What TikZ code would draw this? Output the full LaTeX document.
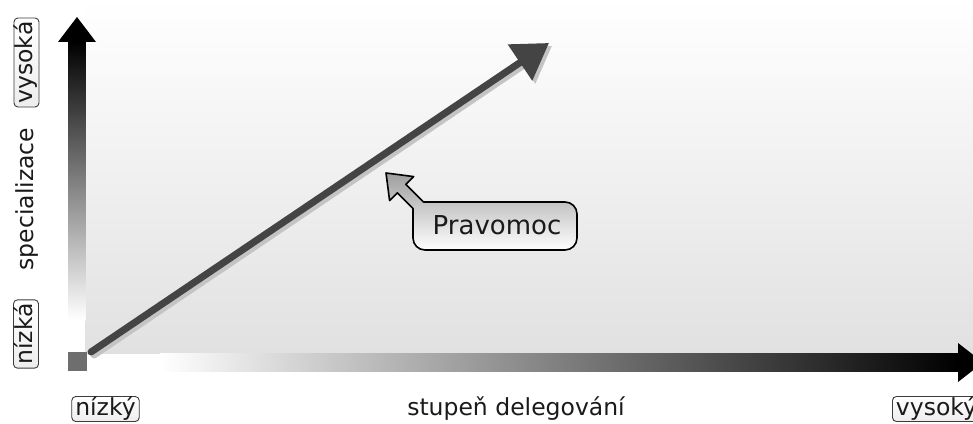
\documentclass[tikz,border=0pt]{standalone}
\usepackage{fontspec}
\setmainfont{DejaVu Sans}
\usetikzlibrary{arrows.meta}
\definecolor{bgbot}{HTML}{E1E1E1}
\definecolor{ink}{HTML}{1A1A1A}
\definecolor{lineclr}{HTML}{444444}
\definecolor{shadowclr}{HTML}{C4C4C4}
\definecolor{squareclr}{HTML}{6E6E6E}
\definecolor{frameclr}{HTML}{3C3C3C}
\tikzset{
  labelbox/.style={draw=frameclr, line width=0.9pt, rounded corners=4pt,
    top color=white, bottom color=white!93!black, text=ink,
    inner xsep=3.5pt, inner ysep=1.5pt, text height=17pt, text depth=5pt,
    font=\fontsize{23.5}{28}\selectfont},
  plainlabel/.style={text=ink, inner sep=0pt, font=\fontsize{23.5}{28}\selectfont},
  trend/.style={draw=lineclr, line width=7pt, line cap=round,
    -{Triangle[length=35pt,width=42pt]}},
  trendshadow/.style={draw=shadowclr, line width=7pt, line cap=round,
    -{Triangle[length=35pt,width=42pt]}},
  callout/.style={draw=black, line width=1.6pt, line join=round,
    top color=white!62!black, bottom color=white},
}
\begin{document}
\begin{tikzpicture}[x=1pt,y=1pt]
  \useasboundingbox (0,0) rectangle (973,423);
  \clip (0,0) rectangle (973,423);
  \fill[white] (0,0) rectangle (973,423);

  % plot area
  \shade[top color=white, bottom color=bgbot] (85,70) rectangle (973,423);

  % vertical axis: fading shaft with a solid head
  \shade[top color=black, bottom color=white] (68.5,103) rectangle (85.5,381);
  \fill[black] (58,381) -- (96,381) -- (77,406) -- cycle;

  % horizontal axis
  \shade[left color=white, right color=black] (160,52) rectangle (958.5,70);
  \fill[black] (958,80) -- (958,41) -- (983,60.5) -- cycle;

  % origin marker
  \fill[squareclr] (68,52) rectangle (87,71);

  % trend line with its shadow
  \coordinate (start) at (91,71);
  \coordinate (tip) at (549,380);
  \coordinate (startS) at (94,68);
  \coordinate (tipS) at (552,377);
  \draw[trendshadow] (startS) -- (tipS);
  \draw[trend] (start) -- (tip);

  % callout pointing at the trend line
  \coordinate (ct) at (386,250);
  \coordinate (c1) at (413.6,246.4);
  \coordinate (i1) at (405.8,238.6);
  \coordinate (ptop) at (423.4,221);
  \coordinate (pleft) at (413,214.6);
  \coordinate (i2) at (397.4,230.2);
  \coordinate (c2) at (389.6,222.4);
  \draw[callout] (ct) -- (c1) -- (i1) -- (ptop) -- (565,221)
    arc[start angle=90, end angle=0, radius=12] -- (577,185)
    arc[start angle=0, end angle=-90, radius=12] -- (425,173)
    arc[start angle=270, end angle=180, radius=12] -- (pleft)
    -- (i2) -- (c2) -- cycle;
  \node[text=ink, inner sep=0pt, font=\fontsize{26}{31}\selectfont] (pravomoc) at (497,198) {Pravomoc};

  % axis labels
  \node[labelbox, rotate=90] (yhigh) at (26.5,360.5) {vysoká};
  \node[plainlabel, rotate=90] (ytitle) at (27,224) {specializace};
  \node[labelbox, rotate=90] (ylow) at (26,89) {nízká};
  \node[labelbox] (xlow) at (105.5,14) {nízký};
  \node[plainlabel] (xtitle) at (516,14) {stupeň delegování};
  \node[labelbox, anchor=west] (xhigh) at (892,14) {vysoký};
\end{tikzpicture}
\end{document}
